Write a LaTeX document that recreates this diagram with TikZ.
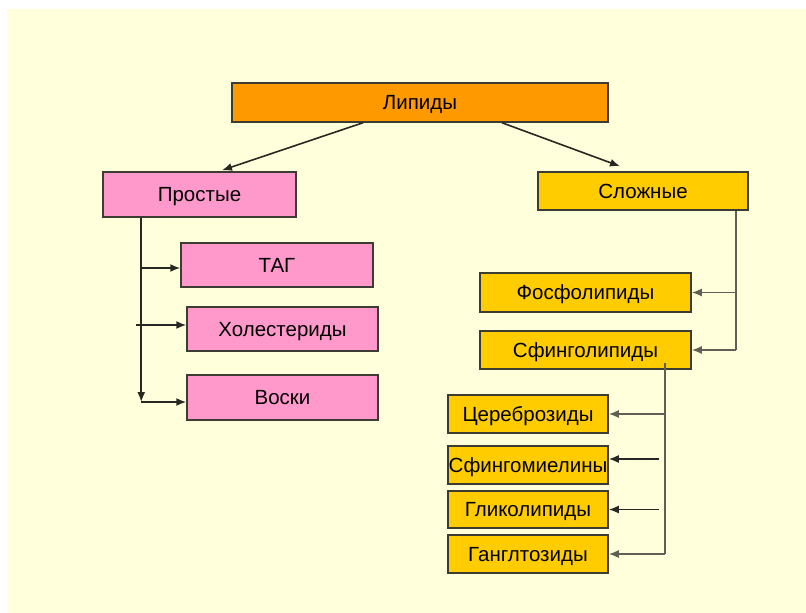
\documentclass[tikz,border=0pt]{standalone}
\usepackage{fontspec}
\setmainfont{Liberation Sans}
\usetikzlibrary{arrows.meta}
\definecolor{bgyel}{RGB}{255,255,220}
\definecolor{orangebox}{RGB}{255,153,0}
\definecolor{pinkbox}{RGB}{255,153,204}
\definecolor{goldbox}{RGB}{255,204,0}
\definecolor{edge}{RGB}{60,60,50}
\definecolor{conn}{RGB}{40,40,35}
\definecolor{connr}{RGB}{95,95,85}
\tikzset{
  box/.style={draw=edge, line width=1.5pt, rectangle, inner sep=0pt,
    font=\fontsize{20.5}{23}\selectfont, text=black,
    text height=14.7pt, text depth=0pt},
  orbox/.style={box, fill=orangebox},
  pkbox/.style={box, fill=pinkbox},
  gdbox/.style={box, fill=goldbox},
  arr/.style={draw=conn, line width=1.6pt, -{Latex[length=10pt,width=8pt]}},
  arrr/.style={draw=connr, line width=1.7pt, -{Latex[length=10pt,width=8pt]}},
  ln/.style={draw=conn, line width=1.6pt},
  lnr/.style={draw=connr, line width=1.7pt}
}
\begin{document}
\begin{tikzpicture}[x=1pt,y=-1pt]
\useasboundingbox (0,0) rectangle (806,613);
\fill[white] (0,0) rectangle (806,613);
\fill[bgyel] (7,9) rectangle (806,613);

\node[orbox, minimum width=376pt, minimum height=39pt] (lip) at (420,102.5) {Липиды};
\node[pkbox, minimum width=193pt, minimum height=45pt] (pro) at (199.5,194.5) {Простые};
\node[gdbox, minimum width=210pt, minimum height=38pt] (slo) at (643,191) {Сложные};

\node[pkbox, minimum width=192pt, minimum height=44pt] (tag) at (277,265) {ТАГ};
\node[pkbox, minimum width=191pt, minimum height=44pt] (hol) at (282.5,329) {Холестериды};
\node[pkbox, minimum width=191pt, minimum height=45pt] (vos) at (282.5,397.5) {Воски};

\node[gdbox, minimum width=211pt, minimum height=39pt] (fos) at (585.5,292.5) {Фосфолипиды};
\node[gdbox, minimum width=211pt, minimum height=38pt] (sfi) at (585.5,350) {Сфинголипиды};

\node[gdbox, minimum width=160pt, minimum height=38pt] (cer) at (528,414) {Цереброзиды};
\node[gdbox, minimum width=160pt, minimum height=38pt] (sfm) at (528,465) {Сфингомиелины};
\node[gdbox, minimum width=160pt, minimum height=37pt] (gli) at (528,509.5) {Гликолипиды};
\node[gdbox, minimum width=160pt, minimum height=38pt] (gan) at (528,554) {Ганглтозиды};

% top arrows
\draw[arr] ([xshift=-57pt]lip.south) -- ([xshift=22.5pt,yshift=1pt]pro.north);
\draw[arr] ([xshift=82pt]lip.south) -- ([xshift=-23pt,yshift=5pt]slo.north);

% left trunk
\coordinate (lt) at ([xshift=39pt]pro.south west);
\coordinate (lb) at (lt |- {(0,402)});
\draw[arr] (lt) -- (lb);
\coordinate (ts) at (lt |- {(0,268)});
\draw[arr] (ts) -- (ts -| tag.west);
\coordinate (hs) at (136,325);
\draw[arr] (hs) -- (hs -| hol.west);
\draw[arr] (lb) -- (lb -| vos.west);

% right trunk
\coordinate (rt) at ([xshift=-13pt]slo.south east);
\coordinate (rb) at (rt |- sfi.east);
\draw[lnr] (rt) -- (rb);
\draw[arrr] (rt |- fos.east) -- (fos.east);
\draw[arrr] (rb) -- (sfi.east);

% sphingolipid trunk
\coordinate (st) at (665,363);
\coordinate (sb) at (st |- gan.east);
\draw[lnr] (st) -- (sb);
\draw[arrr] (st |- cer.east) -- (cer.east);
\coordinate (ms) at (659,459);
\draw[arr] (ms) -- (ms -| sfm.east);
\coordinate (gs) at (659,509.5);
\draw[arr] (gs) -- (gli.east);
\draw[arrr] (sb) -- (gan.east);
\end{tikzpicture}
\end{document}
